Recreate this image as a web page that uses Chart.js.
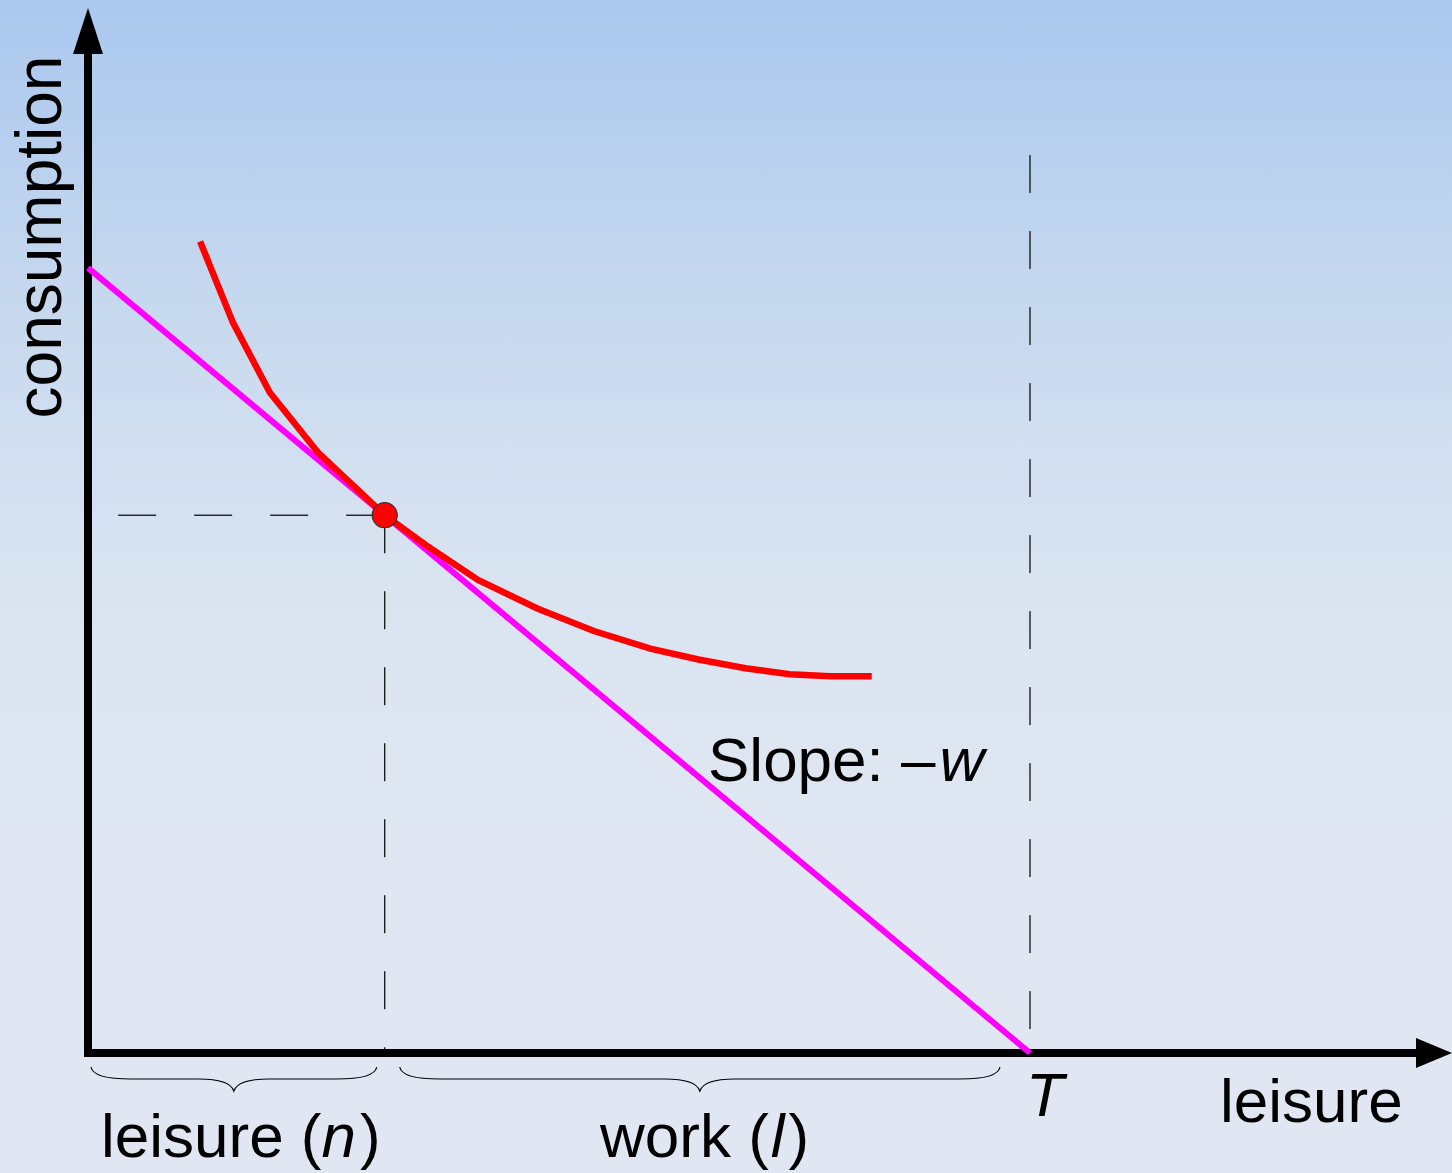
<!DOCTYPE html>
<html>
<head>
<meta charset="utf-8">
<script src="https://cdn.jsdelivr.net/npm/chart.js@4/dist/chart.umd.min.js"></script>
<style>
  html, body { margin: 0; padding: 0; }
  body {
    width: 1452px; height: 1173px; overflow: hidden;
    background: linear-gradient(to bottom, #aac8ee 0%, #c6d8ee 25%, #dae4f1 50%, #e0e7f2 75%, #e0e7f2 100%);
  }
  #wrap { width: 1452px; height: 1173px; position: relative; }
</style>
</head>
<body>
<div id="wrap"><canvas id="chart"></canvas></div>
<script>
// leisure on x, consumption on y; total time T = 10, wage w = 0.8
const budgetX = [0, 10];
const budgetY = [8, 0];

// indifference curve
const curveX = [1.19, 1.54, 1.93, 2.44, 3.15, 3.58, 4.14, 4.77, 5.37, 5.97, 6.48, 6.98, 7.45, 7.88, 8.32];
const curveY = [8.27, 7.44, 6.73, 6.12, 5.48, 5.18, 4.82, 4.53, 4.30, 4.12, 4.01, 3.92, 3.86, 3.84, 3.84];

// optimum choice
const optX = [3.15];
const optY = [5.48];

const T_VALUE = 10;
const T_GUIDE_TOP = 9.15;

const xLabels = ['leisure (n)', 'work (l)', 'T', 'leisure'];
const yLabel = 'consumption';
const slopeLabel = 'Slope: –w';

const FONT = '"Liberation Sans", Arial, Helvetica, sans-serif';
const SIZE = 62;

function pts(xs, ys) {
    return xs.map((x, i) => ({ x: x, y: ys[i] }));
}

// brace under the x axis, from x1 to x2 (pixels)
function brace(ctx, x1, x2, y) {
    const mid = (x1 + x2) / 2;
    const h = 12;
    ctx.beginPath();
    ctx.moveTo(x1, y);
    ctx.quadraticCurveTo(x1 + 2, y + h, x1 + 40, y + h);
    ctx.lineTo(mid - 35, y + h);
    ctx.quadraticCurveTo(mid - 4, y + h, mid, y + h + 12);
    ctx.quadraticCurveTo(mid + 4, y + h, mid + 35, y + h);
    ctx.lineTo(x2 - 40, y + h);
    ctx.quadraticCurveTo(x2 - 2, y + h, x2, y);
    ctx.stroke();
}

// draws plain and italic pieces on one baseline
function mixed(ctx, parts, x, y) {
    parts.forEach(p => {
        ctx.font = (p.italic ? 'italic ' : '') + SIZE + 'px ' + FONT;
        ctx.fillText(p.t, x + (p.dx || 0), y);
        x += ctx.measureText(p.t).width + (p.dx || 0) + (p.after || 0);
    });
}

// axes with arrow heads, behind the data
const axesPlugin = {
    id: 'axesPlugin',
    beforeDatasetsDraw(chart) {
        const { ctx, scales } = chart;
        const x0 = scales.x.getPixelForValue(0);
        const y0 = scales.y.getPixelForValue(0);
        ctx.save();
        ctx.strokeStyle = '#000';
        ctx.fillStyle = '#000';
        ctx.lineWidth = 8;
        ctx.beginPath();
        ctx.moveTo(x0, 50);
        ctx.lineTo(x0, y0);
        ctx.lineTo(1420, y0);
        ctx.stroke();
        ctx.beginPath();
        ctx.moveTo(x0, 8);
        ctx.lineTo(x0 - 15, 54);
        ctx.lineTo(x0 + 15, 54);
        ctx.closePath();
        ctx.fill();
        ctx.beginPath();
        ctx.moveTo(1452, y0);
        ctx.lineTo(1416, y0 - 15);
        ctx.lineTo(1416, y0 + 15);
        ctx.closePath();
        ctx.fill();
        ctx.restore();
    },
    afterDatasetsDraw(chart) {
        const { ctx, scales } = chart;
        const x0 = scales.x.getPixelForValue(0);
        const y0 = scales.y.getPixelForValue(0);
        const xOpt = scales.x.getPixelForValue(optX[0]);
        const xT = scales.x.getPixelForValue(T_VALUE);
        ctx.save();
        ctx.strokeStyle = '#000';
        ctx.lineWidth = 1.2;
        brace(ctx, x0 + 3, xOpt - 8, y0 + 14);
        brace(ctx, xOpt + 15, xT - 30, y0 + 14);

        ctx.fillStyle = '#000';
        ctx.textBaseline = 'alphabetic';
        ctx.textAlign = 'left';
        mixed(ctx, [{ t: 'leisure (' }, { t: 'n', italic: true, after: 4 }, { t: ')' }], 101, 1157);
        mixed(ctx, [{ t: 'work (' }, { t: 'l', italic: true, dx: 2, after: 4 }, { t: ')' }], 600, 1157);
        mixed(ctx, [{ t: xLabels[2], italic: true }], xT - 4, 1116);
        mixed(ctx, [{ t: xLabels[3] }], 1220, 1122);
        mixed(ctx, [{ t: 'Slope: –' }, { t: 'w', italic: true, dx: 4 }], 708, 781);

        // y axis title
        ctx.font = '64px ' + FONT;
        ctx.translate(61, 237);
        ctx.rotate(-Math.PI / 2);
        ctx.textAlign = 'center';
        ctx.fillText(yLabel, 0, 0);
        ctx.restore();
    }
};

const ctx = document.getElementById('chart').getContext('2d');
new Chart(ctx, {
    type: 'scatter',
    data: {
        datasets: [
            {
                label: 'optimum',
                data: pts(optX, optY),
                pointRadius: 12.5,
                pointBackgroundColor: '#ff0000',
                pointBorderColor: '#333',
                pointBorderWidth: 1.2,
                showLine: false,
                clip: false,
                order: 0
            },
            {
                label: 'indifference curve',
                data: pts(curveX, curveY),
                showLine: true,
                borderColor: '#ff0000',
                borderWidth: 6.5,
                pointRadius: 0,
                tension: 0,
                clip: false,
                order: 1
            },
            {
                label: 'budget line',
                data: pts(budgetX, budgetY),
                showLine: true,
                borderColor: '#ff00ff',
                borderWidth: 6,
                pointRadius: 0,
                clip: false,
                order: 2
            },
            {
                label: 'guide consumption',
                data: [{ x: 0.32, y: optY[0] }, { x: optX[0], y: optY[0] }],
                showLine: true,
                borderColor: '#000',
                borderWidth: 1.2,
                borderDash: [38, 38],
                pointRadius: 0,
                clip: false,
                order: 3
            },
            {
                label: 'guide leisure',
                data: [{ x: optX[0], y: optY[0] }, { x: optX[0], y: 0 }],
                showLine: true,
                borderColor: '#000',
                borderWidth: 1.2,
                borderDash: [38, 38],
                pointRadius: 0,
                clip: false,
                order: 3
            },
            {
                label: 'guide T',
                data: [{ x: T_VALUE, y: T_GUIDE_TOP }, { x: T_VALUE, y: 0 }],
                showLine: true,
                borderColor: '#000',
                borderWidth: 1.2,
                borderDash: [38, 38],
                pointRadius: 0,
                clip: false,
                order: 3
            }
        ]
    },
    options: {
        responsive: true,
        maintainAspectRatio: false,
        animation: false,
        layout: { autoPadding: false, padding: { left: 88, right: 0, top: 0, bottom: 120 } },
        plugins: {
            legend: { display: false },
            tooltip: { enabled: false }
        },
        scales: {
            x: { type: 'linear', display: false, min: 0, max: 14.48 },
            y: { type: 'linear', display: false, min: 0, max: 10.73 }
        }
    },
    plugins: [axesPlugin]
});
</script>
</body>
</html>
